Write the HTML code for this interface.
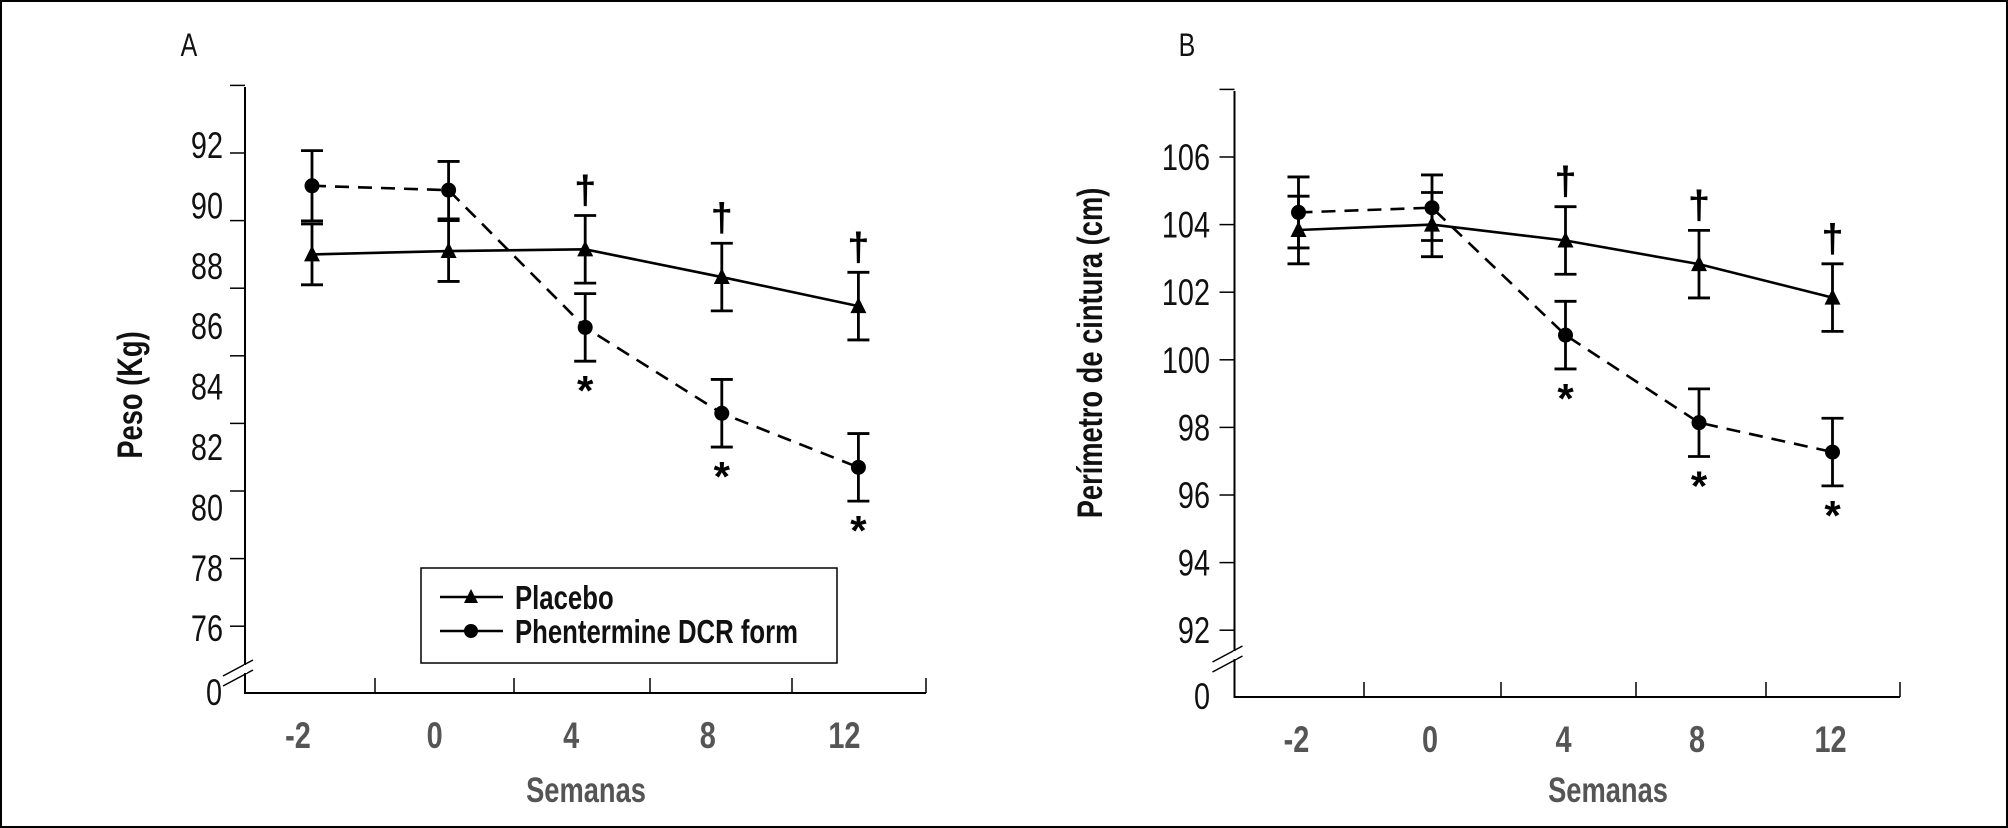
<!DOCTYPE html>
<html><head><meta charset="utf-8">
<style>
html,body{margin:0;padding:0;background:#fff;}
svg{display:block;}
text{font-family:"Liberation Sans Narrow","Liberation Sans",sans-serif;}
</style></head>
<body>
<svg id="chart" width="2008" height="828" viewBox="0 0 2008 828" xmlns="http://www.w3.org/2000/svg">
<rect x="1" y="1" width="2006" height="826" fill="#fff" stroke="#000" stroke-width="2"/>
</svg>
<script>
const categories = ["-2","0","4","8","12"];
const weightPlacebo = [89.0, 89.1, 89.15, 88.33, 87.47];
const weightPlaceboErr = [0.9, 0.9, 1.0, 1.0, 1.0];
const weightPhen = [91.03, 90.9, 86.84, 84.3, 82.7];
const weightPhenErr = [1.04, 0.85, 1.0, 1.0, 1.0];
const weightTicks = [94, 92, 90, 88, 86, 84, 82, 80, 78];
const weightTickLabels = ["92","90","88","86","84","82","80","78","76"];
const waistPlacebo = [103.84, 104.0, 103.53, 102.83, 101.84];
const waistPlaceboErr = [1.0, 0.95, 1.0, 1.0, 1.0];
const waistPhen = [104.36, 104.5, 100.73, 98.14, 97.27];
const waistPhenErr = [1.05, 0.97, 1.0, 1.0, 1.0];
const waistTicks = [108, 106, 104, 102, 100, 98, 96, 94, 92];
const waistTickLabels = ["106","104","102","100","98","96","94","92"];
const daggerIdx = [2, 3, 4];
const starIdx = [2, 3, 4];

const NS = "http://www.w3.org/2000/svg";
const svg = document.getElementById('chart');
const SX = 0.78;
function mk(tag, attrs, parent, txt){
  const e = document.createElementNS(NS, tag);
  for (const k in attrs) e.setAttribute(k, attrs[k]);
  if (txt !== undefined) e.textContent = txt;
  (parent || svg).appendChild(e);
  return e;
}
function ctext(x, y, attrs, parent, txt, rot){
  const tr = `translate(${x},${y})` + (rot ? ` rotate(${rot})` : '') + ` scale(${SX},1)`;
  const a = Object.assign({x:0, y:0, transform:tr}, attrs);
  return mk('text', a, parent, txt);
}

function panel(cfg){
  const g = mk('g', {});
  
  
  const y = v => cfg.y0 + (cfg.v0 - v) * cfg.ppu;
  const x = i => cfg.px0 + i * cfg.pstep;
  const ax = mk('path', {d:`M${cfg.ax},${cfg.top} V${cfg.bottom} H${cfg.right}`, fill:'none', stroke:'#000', 'stroke-width':2}, g);
  
  
  cfg.ticks.forEach(v => {
    const t = mk('line', {x1:cfg.ax-15, x2:cfg.ax, y1:y(v), y2:y(v), stroke:'#000', 'stroke-width':1.5}, g);
    
    
  });
  cfg.labels.forEach((l, i) => {
    const t = ctext(cfg.labelX, cfg.labY0 + i*cfg.labStep + 13, {'text-anchor':'end', 'font-size':37, fill:'#111'}, g, l);
    
    
  });
  const z = ctext(cfg.zeroX, cfg.bottom+12, {'text-anchor':'middle', 'font-size':37, fill:'#111'}, g, '0');
  
  
  [0, 10].forEach(d => {
    const b = mk('line', {x1:cfg.ax-22, y1:cfg.brk+12+d, x2:cfg.ax+8, y2:cfg.brk-4+d, stroke:'#000', 'stroke-width':1.5}, g);
    
    
  });
  mk('rect', {x:cfg.ax-1, y:cfg.brk+1, width:3, height:8, fill:'#fff'}, g);
  cfg.xticks.forEach(xt => {
    const t = mk('line', {x1:xt, x2:xt, y1:cfg.bottom-15, y2:cfg.bottom, stroke:'#000', 'stroke-width':1.5}, g);
    
    
  });
  categories.forEach((c, i) => {
    const t = ctext(x(i)+cfg.catOff, cfg.bottom+55, {'text-anchor':'middle', 'font-size':37, 'font-weight':'bold', fill:'#555'}, g, c);
    
    
  });
  const xt = ctext(cfg.xTitleX, 802, {'text-anchor':'middle', 'font-size':35, 'font-weight':'bold', fill:'#555'}, g, 'Semanas');
  
  
  const yt = mk('text', {x:0, y:0, transform:`translate(${cfg.yTitleX},${cfg.yTitleY}) rotate(-90) scale(${SX},1)`, 'text-anchor':'middle', 'font-size':35, 'font-weight':'bold', fill:'#111'}, g, cfg.yTitle);
  
  
  const pl = ctext(cfg.letterX, 56, {'text-anchor':'middle', 'font-size':32, fill:'#111'}, g, cfg.letter);
  
  

  function series(vals, errs, dashed, marker, nm){
    const sg = mk('g', {}, g);
    
    
    const line = mk('polyline', {points: vals.map((v,i)=>`${x(i)},${y(v)}`).join(' '), fill:'none', stroke:'#000', 'stroke-width':2.6, 'stroke-dasharray': dashed ? '14,9' : 'none'}, sg);
    
    
    vals.forEach((v, i) => {
      const xi = x(i), e = errs[i];
      const eb = mk('path', {d:`M${xi},${y(v+e)} V${y(v-e)} M${xi-11},${y(v+e)} H${xi+11} M${xi-11},${y(v-e)} H${xi+11}`, fill:'none', stroke:'#000', 'stroke-width':2.8}, sg);
      
      
      let m;
      if (marker === 'tri') m = mk('polygon', {points:`${xi},${y(v)-9} ${xi-8},${y(v)+7} ${xi+8},${y(v)+7}`, fill:'#000'}, sg);
      else m = mk('circle', {cx:xi, cy:y(v), r:7.5, fill:'#000'}, sg);
      
      
    });
  }
  series(cfg.placebo, cfg.placeboErr, false, 'tri', 'placebo-series');
  series(cfg.phen, cfg.phenErr, true, 'circle', 'phentermine-series');
  daggerIdx.forEach(i => {
    const d = mk('text', {x:x(i), y:y(cfg.placebo[i]+cfg.placeboErr[i]) - 12, 'text-anchor':'middle', 'font-size':40, 'font-weight':'bold', fill:'#000'}, g, '†');
    
    
  });
  starIdx.forEach(i => {
    const s = mk('text', {x:x(i), y:y(cfg.phen[i]-cfg.phenErr[i]) + 44, 'text-anchor':'middle', 'font-size':42, 'font-weight':'bold', fill:'#000'}, g, '*');
    
    
  });
}

panel({name:'panel-a-weight', letter:'A', letterX:189, ax:245, top:87, bottom:693, right:926, y0:153, v0:92, ppu:33.8,
  ticks:weightTicks, labels:weightTickLabels, labelX:223, labY0:145, labStep:60.4, zeroX:214, brk:664,
  xticks:[375,514,650,792,926], px0:312, pstep:136.6, catOff:-14, xTitleX:586, yTitleX:142, yTitleY:395, yTitle:'Peso (Kg)',
  placebo:weightPlacebo, placeboErr:weightPlaceboErr, phen:weightPhen, phenErr:weightPhenErr});
panel({name:'panel-b-waist', letter:'B', letterX:1187, ax:1234.5, top:91, bottom:697, right:1900, y0:157, v0:106, ppu:33.8,
  ticks:waistTicks, labels:waistTickLabels, labelX:1210, labY0:157, labStep:67.6, zeroX:1202, brk:650,
  xticks:[1364,1501,1636,1766,1900], px0:1298.5, pstep:133.5, catOff:-2, xTitleX:1608, yTitleX:1102, yTitleY:353, yTitle:'Perímetro de cintura (cm)',
  placebo:waistPlacebo, placeboErr:waistPlaceboErr, phen:waistPhen, phenErr:waistPhenErr});

const lg = mk('g', {});


mk('rect', {x:421, y:568, width:416, height:95, fill:'#fff', stroke:'#000', 'stroke-width':1.5}, lg);
const e1 = mk('g', {}, lg);


mk('line', {x1:440, x2:503, y1:597, y2:597, stroke:'#000', 'stroke-width':2.5}, e1);
mk('polygon', {points:'471,589 464,603 478,603', fill:'#000'}, e1);
ctext(515, 609, {'font-size':33, 'font-weight':'bold', fill:'#111'}, e1, 'Placebo');
const e2 = mk('g', {}, lg);


mk('line', {x1:440, x2:503, y1:631, y2:631, stroke:'#000', 'stroke-width':2.5}, e2);
mk('circle', {cx:471, cy:631, r:7, fill:'#000'}, e2);
ctext(515, 643, {'font-size':33, 'font-weight':'bold', fill:'#111'}, e2, 'Phentermine DCR form');
</script>
</body></html>
